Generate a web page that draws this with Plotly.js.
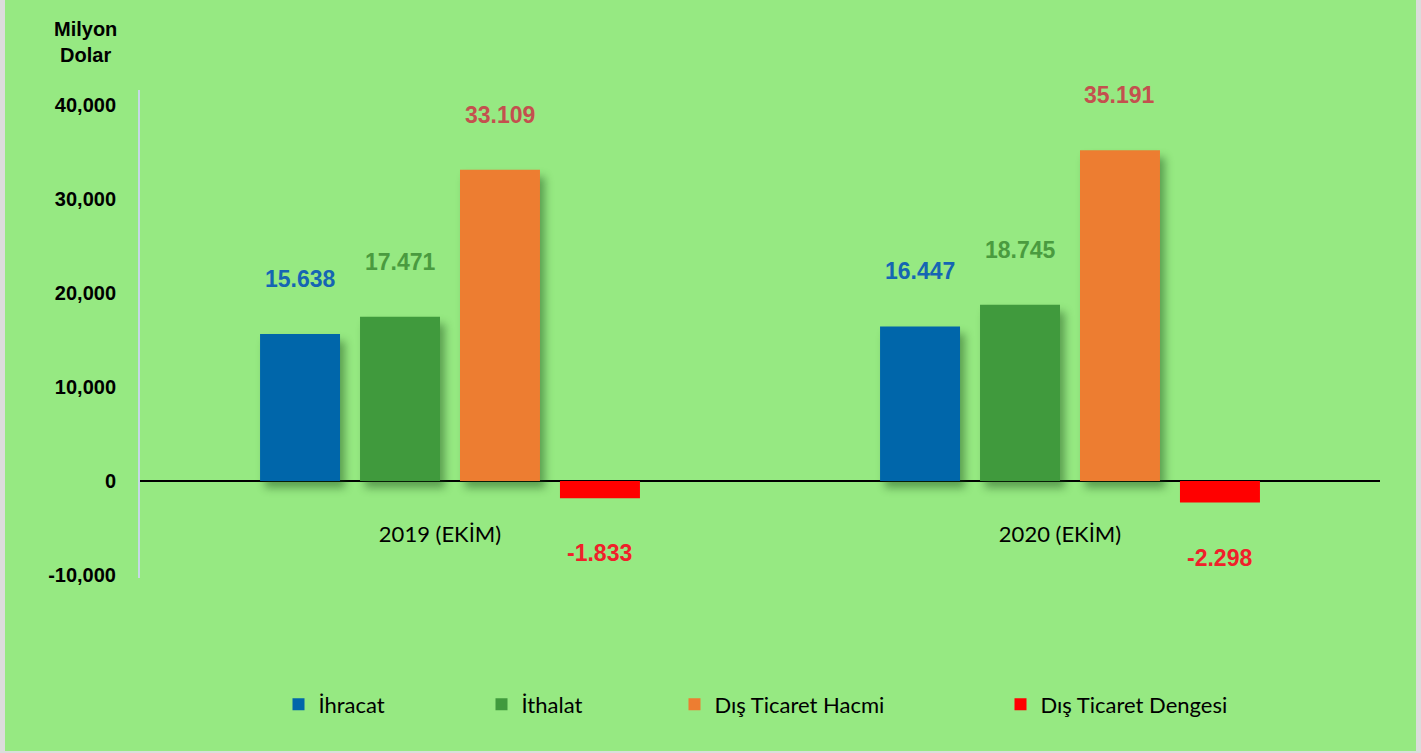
<!DOCTYPE html>
<html><head><meta charset="utf-8">
<script src="https://cdn.plot.ly/plotly-3.0.1.min.js"></script>
<style>
html,body{margin:0;padding:0;background:#dcdcdc;width:1421px;height:753px;overflow:hidden}
#chart{position:absolute;left:5px;top:0;width:1411px;height:751px}
.barlayer .trace:not(:last-child) .point path{filter:drop-shadow(5px 7px 4px rgba(20,70,20,0.45))}
</style></head><body><div id="chart"></div>
<script>
// ---- data ----
const categories = ['2019 (EKİM)', '2020 (EKİM)'];
const seriesNames = ['İhracat', 'İthalat', 'Dış Ticaret Hacmi', 'Dış Ticaret Dengesi'];
const ihracat = [15638, 16447];
const ithalat = [17471, 18745];
const disTicaretHacmi = [33109, 35191];
const disTicaretDengesi = [-1833, -2298];
const yTickValues = [-10000, 0, 10000, 20000, 30000, 40000];
const yTickLabels = ['-10,000', '0', '10,000', '20,000', '30,000', '40,000'];
const unitLabel = 'Milyon<br>Dolar';

// ---- style ----
const barColors = ['#0066AA', '#409A3D', '#ED7D31', '#FF0000'];
const labelColors = ['#1565B3', '#4A9B3F', '#C4504E', '#F0202A'];
const bg = '#96E982';
const bargap = 0.355, bargroupgap = 0.2;
const yRange = [-10319, 41596];
const W = 1411, H = 751;
const M = {l: 135, r: 36, t: 90, b: 173};
const legendSymbolCenters = [293.5, 496.5, 689.5, 1015.5]; // px in div
const legendCenterY = 704.5;

function fmtTR(v) {
  const s = Math.abs(v).toString().replace(/\B(?=(\d{3})+(?!\d))/g, '.');
  return (v < 0 ? '-' : '') + s;
}

const series = [ihracat, ithalat, disTicaretHacmi, disTicaretDengesi];
const legendIds = ['legend', 'legend2', 'legend3', 'legend4'];

const traces = series.map((vals, s) => ({
  type: 'bar', x: categories, y: vals, name: seriesNames[s],
  marker: {color: barColors[s], line: {width: 0}},
  legend: legendIds[s], hoverinfo: 'skip'
}));

const slot = (1 - bargap) / series.length;
const annotations = [];
series.forEach((vals, s) => vals.forEach((v, i) => {
  annotations.push({
    x: i + (s - (series.length - 1) / 2) * slot, y: v, xref: 'x', yref: 'y',
    text: fmtTR(v), showarrow: false, yanchor: 'middle', yshift: v >= 0 ? 55 : -55,
    font: {family: 'Liberation Sans, Arial, sans-serif', size: 23, color: labelColors[s], weight: 700}
  });
}));
annotations.push({
  xref: 'paper', yref: 'paper', x: (80.5 - M.l) / (W - M.l - M.r), y: (H - M.b - 42) / (H - M.t - M.b),
  text: unitLabel, showarrow: false, xanchor: 'center', yanchor: 'middle', align: 'center',
  font: {family: 'Liberation Sans, Arial, sans-serif', size: 20, color: '#000', weight: 700}
});

const layout = {
  width: W, height: H, margin: M,
  paper_bgcolor: bg, plot_bgcolor: bg,
  barmode: 'group', bargap: bargap, bargroupgap: bargroupgap,
  hovermode: false, showlegend: true,
  xaxis: {
    type: 'category', range: [-0.5, categories.length - 0.5], showgrid: false, zeroline: false,
    showline: false, ticks: '', anchor: 'free',
    position: (0 - yRange[0]) / (yRange[1] - yRange[0]),
    ticklabelstandoff: 38, ticklabelshift: -10,
    tickfont: {family: 'Lato, sans-serif', size: 22, color: '#000'}
  },
  yaxis: {
    range: yRange, tickvals: yTickValues, ticktext: yTickLabels, showgrid: false,
    showline: true, linecolor: '#c6d8e6', linewidth: 2,
    zeroline: true, zerolinecolor: '#000', zerolinewidth: 2,
    ticks: '', ticklabelstandoff: 18,
    tickfont: {family: 'Liberation Sans, Arial, sans-serif', size: 20, color: '#000', weight: 700}
  },
  annotations: annotations
};
legendIds.forEach((id, s) => {
  layout[id] = {
    xref: 'container', yref: 'container',
    x: (legendSymbolCenters[s] - 20) / W, y: 1 - legendCenterY / H,
    xanchor: 'left', yanchor: 'middle', orientation: 'h',
    bgcolor: 'rgba(0,0,0,0)', borderwidth: 0,
    font: {family: 'Lato, sans-serif', size: 22, color: '#000'}
  };
});

Plotly.newPlot('chart', traces, layout, {displayModeBar: false, staticPlot: true});
</script></body></html>
